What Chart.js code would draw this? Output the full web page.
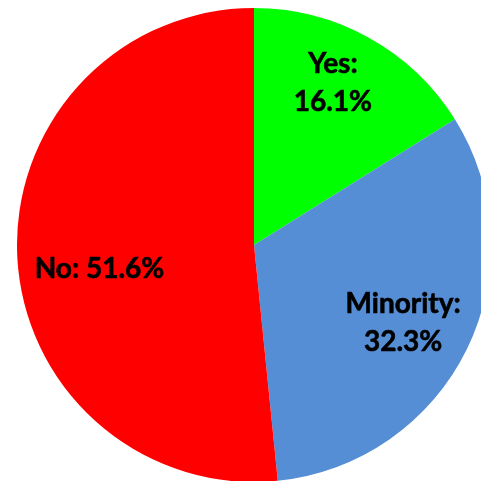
<!DOCTYPE html>
<html>
<head>
<meta charset="utf-8">
<script src="https://cdn.jsdelivr.net/npm/chart.js@4/dist/chart.umd.min.js"></script>
<style>
  html, body { margin: 0; padding: 0; background: #fff; overflow: hidden; }
  body { width: 481px; height: 481px; position: relative; }
  #wrap { position: absolute; left: 17px; top: 8px; width: 474px; height: 474px; }
</style>
</head>
<body>
<div id="wrap"><canvas id="answerChart"></canvas></div>
<script>
const categories = ['Yes', 'Minority', 'No']
const shares = [16.1, 32.3, 51.6]
const sliceColors = ['#00FF00', '#558ED5', '#FF0000']

// draws "Name: 12.3%" inside each slice
const sliceLabels = {
  id: 'sliceLabels',
  afterDatasetsDraw(chart, args, opts) {
    const ctx = chart.ctx
    const meta = chart.getDatasetMeta(0)
    ctx.save()
    ctx.fillStyle = '#000'
    ctx.strokeStyle = '#000'
    ctx.lineWidth = 0.6
    ctx.font = 'bold 28px Lato'
    ctx.textAlign = 'center'
    ctx.textBaseline = 'middle'
    const put = (t, x, y) => {
      ctx.fillText(t, x, y)
      ctx.strokeText(t, x, y)
    }
    meta.data.forEach((arc, i) => {
      const p = opts.place[i]
      const mid = (arc.startAngle + arc.endAngle) / 2 + p.turn * Math.PI / 180
      const r = arc.outerRadius * p.dist
      const x = arc.x + Math.cos(mid) * r
      const y = arc.y + Math.sin(mid) * r
      const pct = chart.data.datasets[0].data[i].toFixed(1) + '%'
      const name = chart.data.labels[i] + ':'
      if (p.split) {
        put(name, x, y - 19)
        put(pct, x, y + 19)
      } else {
        put(name + ' ' + pct, x, y)
      }
    })
    ctx.restore()
  }
}

new Chart(document.querySelector('#answerChart'), {
  type: 'pie',
  data: {
    labels: categories,
    datasets: [{
      data: shares,
      backgroundColor: sliceColors,
      borderWidth: 0
    }]
  },
  options: {
    responsive: true,
    maintainAspectRatio: false,
    animation: false,
    layout: { padding: 0 },
    plugins: {
      legend: { display: false },
      tooltip: { enabled: false },
      sliceLabels: {
        place: [
          { dist: 0.76, turn: -3, split: true },
          { dist: 0.71, turn: 1.5, split: true },
          { dist: 0.66, turn: -6, split: false }
        ]
      }
    }
  },
  plugins: [sliceLabels]
})
</script>
</body>
</html>
